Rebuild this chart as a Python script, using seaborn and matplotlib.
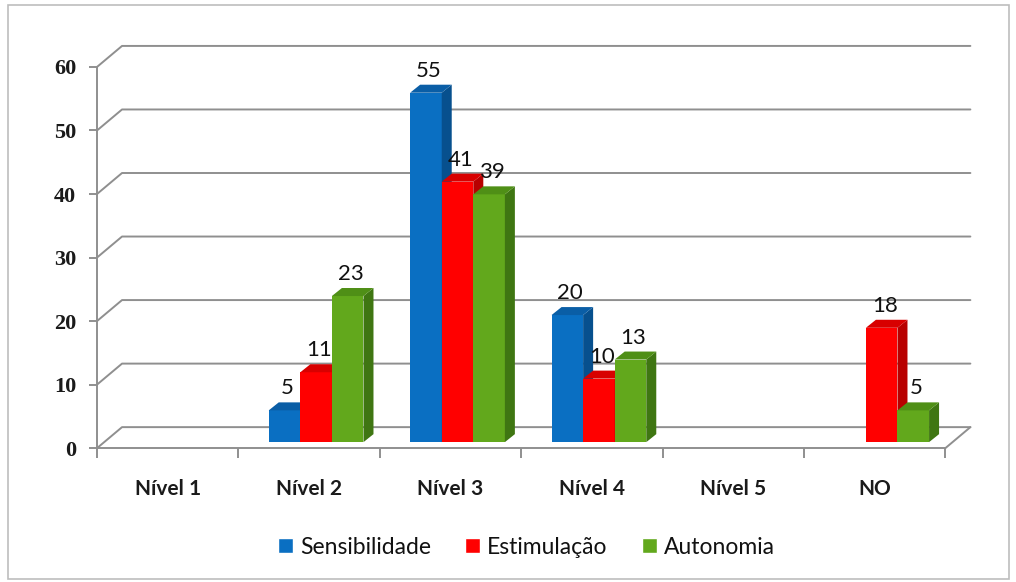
import seaborn as sns
import matplotlib.pyplot as plt
import pandas as pd
from matplotlib.patches import Polygon, Rectangle
from matplotlib.lines import Line2D
from matplotlib.transforms import IdentityTransform

# chart data
categories = ['Nível 1', 'Nível 2', 'Nível 3', 'Nível 4', 'Nível 5', 'NO']
series = ['Sensibilidade', 'Estimulação', 'Autonomia']
sensibilidade = [0, 5, 55, 20, 0, 0]
estimulacao = [0, 11, 41, 10, 0, 18]
autonomia = [0, 23, 39, 13, 0, 5]
y_ticks = [0, 10, 20, 30, 40, 50, 60]

colors = ['#0a6fc2', '#ff0000', '#62a81c']
side_colors = ['#07508e', '#b80000', '#3f7612']
top_colors = ['#0a5ea6', '#d80000', '#4f8f16']
grid_color = '#8f8f8f'

rows = []
for name, vals in zip(series, [sensibilidade, estimulacao, autonomia]):
    for cat, v in zip(categories, vals):
        rows.append({'Nível': cat, 'Série': name, 'Valor': v})
df = pd.DataFrame(rows)

sns.set_style('white')
plt.rcParams['font.family'] = ['Lato', 'DejaVu Sans']

fig = plt.figure(figsize=(10.16, 5.82), dpi=100)
ax = fig.add_axes([0.0955, 0.230, 0.835, 0.655])

sns.barplot(data=df, x='Nível', y='Valor', hue='Série', order=categories,
            hue_order=series, palette=colors, width=0.67, saturation=1,
            errorbar=None, legend=False, ax=ax, zorder=3)

ax.set_xlim(-0.5, len(categories) - 0.5)
ax.set_ylim(0, 60)
ax.set_xlabel('')
ax.set_ylabel('')
for s in ['top', 'right']:
    ax.spines[s].set_visible(False)
for s in ['left', 'bottom']:
    ax.spines[s].set_color(grid_color)
    ax.spines[s].set_linewidth(1.4)

ax.set_yticks(y_ticks)
ax.set_yticklabels([str(t) for t in y_ticks], family=['Liberation Serif'],
                   fontsize=16, fontweight='bold', color='#1a1a1a')
ax.tick_params(axis='y', length=6, width=1.4, color=grid_color, pad=9, left=True)
ax.set_xticks(range(len(categories)))
ax.set_xticklabels(categories, fontsize=15, fontweight='bold', color='#1a1a1a')
ax.tick_params(axis='x', length=0, pad=22)
ax.set_xticks([i - 0.5 for i in range(len(categories) + 1)], minor=True)
ax.tick_params(axis='x', which='minor', length=7, width=1.4, color=grid_color, bottom=True)

# pseudo 3D: back wall offset and bar depth in pixels
wall_dx, wall_dy = 25, 21
bar_dx, bar_dy = 7, 6
depth_x, depth_y = 10, 8

fig.canvas.draw()
to_px = ax.transData.transform
ident = IdentityTransform()

x_left, x_right = -0.5, len(categories) - 0.5
for t in y_ticks:
    p0 = to_px((x_left, t))
    p1 = to_px((x_right, t))
    xs = [p0[0], p0[0] + wall_dx, p1[0] + wall_dx]
    ys = [p0[1], p0[1] + wall_dy, p1[1] + wall_dy]
    ax.add_line(Line2D(xs, ys, transform=ident, color=grid_color, lw=1.4,
                       clip_on=False, zorder=1))
# right edge of floor
p1 = to_px((x_right, 0))
ax.add_line(Line2D([p1[0], p1[0] + wall_dx], [p1[1], p1[1] + wall_dy],
                   transform=ident, color=grid_color, lw=1.4, clip_on=False, zorder=1))

vals_all = [sensibilidade, estimulacao, autonomia]
bars = list(ax.patches)
n = len(categories)
for k, patch in enumerate(bars):
    si, ci = divmod(k, n)
    v = vals_all[si][ci]
    if v == 0:
        patch.set_visible(False)
        continue
    x0, y0 = to_px((patch.get_x(), 0))
    x1, y1 = to_px((patch.get_x() + patch.get_width(), v))
    x0 += bar_dx
    x1 += bar_dx
    y0 += bar_dy
    y1 += bar_dy
    ax.add_patch(Polygon([(x0, y0), (x1, y0), (x1, y1), (x0, y1)], closed=True,
                         transform=ident, facecolor=colors[si], edgecolor='none',
                         clip_on=False, zorder=4 + ci))
    ax.add_patch(Polygon([(x1, y0), (x1 + depth_x, y0 + depth_y),
                          (x1 + depth_x, y1 + depth_y), (x1, y1)], closed=True,
                         transform=ident, facecolor=side_colors[si], edgecolor='none',
                         clip_on=False, zorder=4 + ci))
    ax.add_patch(Polygon([(x0, y1), (x1, y1), (x1 + depth_x, y1 + depth_y),
                          (x0 + depth_x, y1 + depth_y)], closed=True,
                         transform=ident, facecolor=top_colors[si], edgecolor='none',
                         clip_on=False, zorder=4 + ci))
    ax.text((x0 + x1) / 2 + 3, y1 + depth_y + 4, str(v), transform=ident,
            ha='center', va='bottom', fontsize=16, color='#111111', zorder=10)
    patch.set_visible(False)

handles = [Rectangle((0, 0), 1, 1, facecolor=c) for c in colors]
leg = fig.legend(handles, series, loc='center', bbox_to_anchor=(0.518, 0.06), ncol=3,
                 frameon=False, fontsize=16.5, handlelength=0.65, handleheight=0.65,
                 handletextpad=0.3, columnspacing=1.5)
for txt in leg.get_texts():
    txt.set_color('#111111')

fig.patches.append(Rectangle((0.008, 0.006), 0.985, 0.986, transform=fig.transFigure,
                             fill=False, edgecolor='#bdbdbd', lw=1.2))

fig.savefig('out.png', dpi=100)
